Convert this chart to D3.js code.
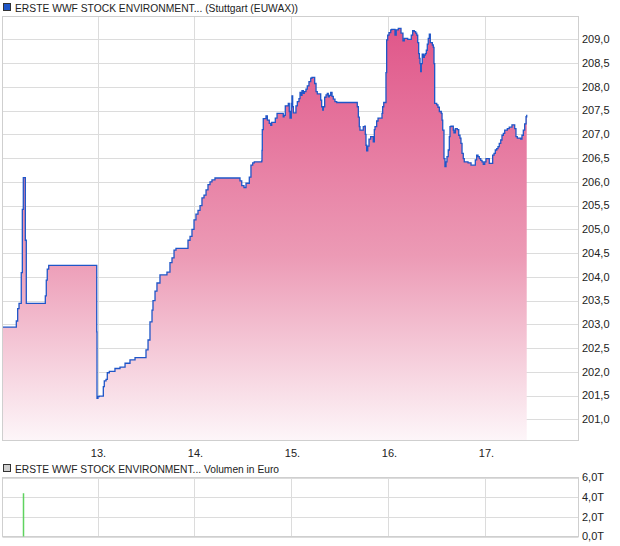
<!DOCTYPE html>
<html><head><meta charset="utf-8">
<script src="https://cdn.jsdelivr.net/npm/d3@7"></script>
<style>body{margin:0;background:#fff;} svg{display:block;font-family:"Liberation Sans",Arial,sans-serif;}</style>
</head><body>
<svg id="chart" width="620" height="546"></svg>
<script>
const title = "ERSTE WWF STOCK ENVIRONMENT... (Stuttgart (EUWAX))";
const volTitle = "ERSTE WWF STOCK ENVIRONMENT... Volumen in Euro";
const dayTicks = [13, 14, 15, 16, 17];
const priceTicks = [201.0,201.5,202.0,202.5,203.0,203.5,204.0,204.5,205.0,205.5,206.0,206.5,207.0,207.5,208.0,208.5,209.0];
const volTicks = [0, 2, 4, 6];
const times = [12.021,12.163,12.177,12.191,12.214,12.225,12.235,12.256,12.266,12.462,12.472,12.482,12.497,12.992,12.995,13.005,13.019,13.060,13.070,13.088,13.101,13.122,13.180,13.232,13.284,13.335,13.387,13.500,13.521,13.541,13.562,13.572,13.593,13.613,13.644,13.716,13.747,13.768,13.789,13.809,13.933,13.954,13.974,13.995,14.015,14.036,14.057,14.077,14.098,14.119,14.139,14.160,14.180,14.211,14.469,14.487,14.510,14.531,14.565,14.582,14.600,14.616,14.693,14.696,14.699,14.709,14.737,14.751,14.771,14.786,14.796,14.833,14.851,14.915,14.923,14.936,14.967,14.977,14.985,14.998,15.005,15.012,15.019,15.046,15.060,15.077,15.088,15.098,15.108,15.122,15.132,15.149,15.163,15.180,15.198,15.211,15.239,15.253,15.266,15.301,15.311,15.322,15.328,15.342,15.356,15.369,15.379,15.390,15.404,15.418,15.431,15.448,15.466,15.665,15.678,15.689,15.699,15.706,15.727,15.740,15.755,15.761,15.768,15.775,15.786,15.799,15.816,15.843,15.854,15.861,15.878,15.892,15.933,15.940,15.951,15.974,15.981,15.992,16.005,16.023,16.033,16.067,16.080,16.101,16.129,16.149,16.163,16.198,16.235,16.249,16.266,16.280,16.291,16.301,16.311,16.318,16.325,16.332,16.338,16.348,16.359,16.369,16.379,16.390,16.400,16.410,16.421,16.431,16.452,16.462,16.469,16.476,16.497,16.510,16.524,16.544,16.552,16.559,16.572,16.582,16.593,16.603,16.616,16.627,16.634,16.644,16.668,16.675,16.689,16.709,16.724,16.737,16.747,16.758,16.771,16.781,16.820,16.851,16.895,16.909,16.923,16.936,16.951,16.964,16.977,16.992,17.005,17.039,17.074,17.088,17.101,17.116,17.129,17.142,17.157,17.170,17.184,17.198,17.225,17.245,17.273,17.301,17.314,17.328,17.363,17.376,17.390,17.404,17.418,17.425];
const prices = [202.94,203.07,203.33,203.44,204.09,205.42,206.09,204.77,203.44,203.60,203.93,204.16,204.24,202.84,201.44,201.48,201.49,201.69,201.81,201.84,201.98,202.01,202.07,202.10,202.18,202.25,202.30,202.46,202.67,203.05,203.30,203.50,203.70,203.87,204.04,204.10,204.30,204.40,204.56,204.60,204.77,204.85,205.00,205.20,205.32,205.40,205.50,205.66,205.72,205.83,205.94,206.00,206.04,206.08,206.02,205.92,205.88,205.97,206.10,206.35,206.40,206.42,206.44,206.66,207.10,207.33,207.39,207.30,207.23,207.19,207.25,207.34,207.44,207.37,207.40,207.60,207.65,207.48,207.34,207.65,207.81,207.58,207.45,207.60,207.69,207.75,207.88,207.82,207.92,207.86,207.90,207.95,208.02,208.11,208.18,208.20,208.07,207.90,207.85,207.72,207.58,207.51,207.58,207.78,207.83,207.86,207.79,207.82,207.88,207.80,207.74,207.69,207.67,207.67,207.58,207.36,207.16,207.09,207.09,207.16,207.17,207.00,206.77,206.65,206.75,206.90,206.95,206.84,207.10,207.16,207.28,207.34,207.44,207.58,207.67,208.30,208.99,209.09,209.14,209.20,209.21,209.09,209.20,209.23,209.13,208.97,209.02,209.00,209.09,209.18,209.16,209.13,209.09,208.93,208.70,208.60,208.49,208.32,208.49,208.69,208.62,208.67,208.70,208.77,208.90,209.02,209.11,208.93,208.88,208.83,208.49,207.65,207.62,207.57,207.48,207.44,207.30,207.09,206.49,206.32,206.42,206.53,206.67,206.95,207.16,207.17,207.09,207.03,207.12,207.10,206.98,206.92,206.81,206.60,206.49,206.42,206.40,206.35,206.46,206.56,206.53,206.49,206.45,206.42,206.37,206.42,206.49,206.39,206.56,206.60,206.67,206.70,206.74,206.81,206.88,206.98,207.02,207.09,207.12,207.15,207.20,207.12,206.95,206.92,206.90,206.98,207.09,207.22,207.37,207.41];
const volTimes = [12.237];
const volValues = [4.4];

const svg = d3.select("#chart");
const L = 2.5, R = 578.5, T = 16.5, B = 440.5;
const VT = 477.5, VB = 536.5;
const gridColor = "#dcdcdc";

const x = d3.scaleLinear().domain([12.0206, 17.9588]).range([L, R]);
const y = d3.scaleLinear().domain([200.554, 209.48]).range([B, T]);
const yv = d3.scaleLinear().domain([0, 6]).range([VB, VT]);

const data = times.map((t, i) => ({t, v: prices[i]}));

// gradient
const defs = svg.append("defs");
const grad = defs.append("linearGradient").attr("id", "fillGrad")
  .attr("gradientUnits", "userSpaceOnUse")
  .attr("x1", 0).attr("x2", 0)
  .attr("y1", y(d3.max(prices))).attr("y2", B);
grad.append("stop").attr("offset", "0%").attr("stop-color", "#e0578a");
grad.append("stop").attr("offset", "55%").attr("stop-color", "#ec9ab5");
grad.append("stop").attr("offset", "100%").attr("stop-color", "#fdf6f9");

// price panel grid
const g = svg.append("g");
g.append("g").selectAll("line").data(priceTicks).join("line")
  .attr("x1", L).attr("x2", R)
  .attr("y1", d => Math.round(y(d)) + 0.5).attr("y2", d => Math.round(y(d)) + 0.5)
  .attr("stroke", gridColor).attr("stroke-width", 1);
g.append("g").selectAll("line").data(dayTicks).join("line")
  .attr("x1", d => Math.round(x(d)) + 0.5).attr("x2", d => Math.round(x(d)) + 0.5)
  .attr("y1", T).attr("y2", B)
  .attr("stroke", gridColor).attr("stroke-width", 1);

// area + line
const area = d3.area().curve(d3.curveStepAfter)
  .x(d => x(d.t)).y0(B).y1(d => y(d.v));
g.append("path").datum(data).attr("d", area).attr("fill", "url(#fillGrad)");
const line = d3.line().curve(d3.curveStepAfter).x(d => x(d.t)).y(d => y(d.v));
g.append("path").datum(data).attr("d", line)
  .attr("fill", "none").attr("stroke", "#1f56c8").attr("stroke-width", 1.3);

// frame
g.append("rect").attr("x", L).attr("y", T).attr("width", R - L).attr("height", B - T)
  .attr("fill", "none").attr("stroke", "#cfcfcf").attr("stroke-width", 1);

// right axis labels
const fmt = d => d.toFixed(1).replace(".", ",");
g.append("g").selectAll("text").data(priceTicks).join("text")
  .attr("x", 582).attr("y", d => y(d)).attr("dy", "0.35em")
  .attr("font-size", 11).attr("fill", "#222").text(fmt);

// x labels
g.append("g").selectAll("text").data(dayTicks).join("text")
  .attr("x", d => x(d) + 1).attr("y", 457)
  .attr("text-anchor", "middle").attr("font-size", 11).attr("fill", "#222")
  .text(d => d + ".");

// legend
svg.append("rect").attr("x", 3.5).attr("y", 3.5).attr("width", 7).attr("height", 7)
  .attr("fill", "#1f56c8").attr("stroke", "#333").attr("stroke-width", 1);
svg.append("text").attr("x", 15).attr("y", 11.5).attr("font-size", 11).attr("fill", "#222")
  .attr("textLength", 283).attr("lengthAdjust", "spacingAndGlyphs").text(title);

// volume panel
const vg = svg.append("g");
vg.append("rect").attr("x", 3.5).attr("y", 464.5).attr("width", 7).attr("height", 7)
  .attr("fill", "#cfcfcf").attr("stroke", "#333").attr("stroke-width", 1);
vg.append("text").attr("x", 15).attr("y", 472.5).attr("font-size", 11).attr("fill", "#222")
  .attr("textLength", 264).attr("lengthAdjust", "spacingAndGlyphs").text(volTitle);
vg.append("g").selectAll("line").data(volTicks).join("line")
  .attr("x1", L).attr("x2", R)
  .attr("y1", d => Math.round(yv(d)) + 0.5).attr("y2", d => Math.round(yv(d)) + 0.5)
  .attr("stroke", gridColor);
vg.append("g").selectAll("line").data(dayTicks).join("line")
  .attr("x1", d => Math.round(x(d)) + 0.5).attr("x2", d => Math.round(x(d)) + 0.5)
  .attr("y1", VT).attr("y2", VB).attr("stroke", gridColor);
vg.append("rect").attr("x", L).attr("y", VT).attr("width", R - L).attr("height", VB - VT)
  .attr("fill", "none").attr("stroke", "#cfcfcf");
vg.append("g").selectAll("line").data(volTimes).join("line")
  .attr("x1", d => Math.round(x(d)) + 0.5).attr("x2", d => Math.round(x(d)) + 0.5)
  .attr("y1", VB).attr("y2", (d, i) => yv(volValues[i]))
  .attr("stroke", "#5fd35f").attr("stroke-width", 1.5);
vg.append("g").selectAll("text").data(volTicks).join("text")
  .attr("x", 582).attr("y", d => yv(d)).attr("dy", "0.35em")
  .attr("font-size", 11).attr("fill", "#222").text(d => d.toFixed(1).replace(".", ",") + "T");
</script>
</body></html>
